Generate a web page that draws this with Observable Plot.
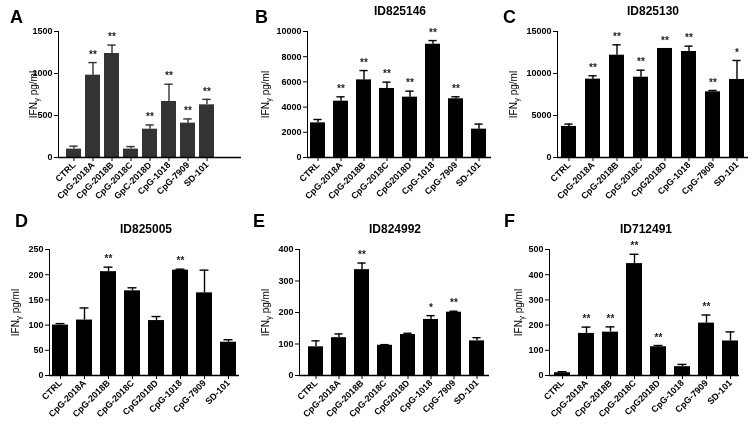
<!DOCTYPE html>
<html>
<head>
<meta charset="utf-8">
<script src="https://cdn.jsdelivr.net/npm/d3@7"></script>
<script src="https://cdn.jsdelivr.net/npm/@observablehq/plot@0.6"></script>
<style>
  html, body { margin: 0; padding: 0; background: #fff; }
  #root { position: relative; width: 752px; height: 427px; overflow: hidden; font-family: Arial, "Liberation Sans", sans-serif; will-change: transform; }
  .panel { position: absolute; }
  #overlay { position: absolute; left: 0; top: 0; pointer-events: none; }
</style>
</head>
<body>
<div id="root"></div>
<script>
// ---------- data ----------
const labelsA = ["CTRL", "CpG-2018A", "CpG-2018B", "CpG-2018C", "GpC-2018D", "CpG-1018", "CpG-7909", "SD-101"];
const labelsBF = ["CTRL", "CpG-2018A", "CpG-2018B", "CpG-2018C", "CpG2018D", "CpG-1018", "CpG-7909", "SD-101"];

const meansA = [100, 980, 1238, 100, 337, 667, 409, 627];
const errsA  = [35, 150, 100, 30, 50, 205, 50, 65];
const starsA = ["", "**", "**", "", "**", "**", "**", "**"];
const ticksA = [0, 500, 1000, 1500];

const meansB = [2750, 4470, 6160, 5480, 4790, 8990, 4660, 2250];
const errsB  = [265, 345, 740, 500, 475, 290, 160, 400];
const starsB = ["", "**", "**", "**", "**", "**", "**", ""];
const ticksB = [0, 2000, 4000, 6000, 8000, 10000];

const meansC = [3700, 9330, 12180, 9560, 12980, 12620, 7820, 9290];
const errsC  = [280, 400, 1230, 830, 0, 635, 160, 2260];
const starsC = ["", "**", "**", "**", "**", "**", "**", "*"];
const ticksC = [0, 5000, 10000, 15000];

const meansD = [100, 110, 206, 168, 109, 209, 164, 66];
const errsD  = [3, 24, 9, 6, 8, 2, 45, 5];
const starsD = ["", "", "**", "", "", "**", "", ""];
const ticksD = [0, 50, 100, 150, 200, 250];

const meansE = [91, 120, 336, 96, 130, 178, 201, 110];
const errsE  = [19, 12, 21, 2, 4, 12, 3, 10];
const starsE = ["", "", "**", "", "", "*", "**", ""];
const ticksE = [0, 100, 200, 300, 400];

const meansF = [11, 167, 172, 444, 114, 35, 208, 137];
const errsF  = [4, 25, 21, 37, 5, 9, 32, 36];
const starsF = ["", "**", "**", "**", "**", "", "**", ""];
const ticksF = [0, 100, 200, 300, 400, 500];

const yLabel = "IFNγ pg/ml";

// ---------- panels ----------
const panels = [
  {letter: "A", title: "", labels: labelsA, means: meansA, errs: errsA, stars: starsA, ticks: ticksA, color: "#333333",
   left: 0, top: 0, w: 250, h: 210, mL: 58, mT: 31, mB: 53, axisEnd: 241, c0: 71.5, c7: 208, bw: 15, labelOffset: 29,
   lx: 10, ly: 23, tx: 0, ty: 0},
  {letter: "B", title: "ID825146", labels: labelsBF, means: meansB, errs: errsB, stars: starsB, ticks: ticksB, color: "#000",
   left: 250, top: 0, w: 250, h: 210, mL: 57, mT: 31, mB: 53, axisEnd: 241, c0: 65, c7: 230.5, bw: 15.4, labelOffset: 46,
   lx: 255, ly: 23, tx: 400, ty: 15},
  {letter: "C", title: "ID825130", labels: labelsBF, means: meansC, errs: errsC, stars: starsC, ticks: ticksC, color: "#000",
   left: 500, top: 0, w: 252, h: 210, mL: 57, mT: 31, mB: 53, axisEnd: 248, c0: 65, c7: 239.5, bw: 15.4, labelOffset: 48,
   lx: 503, ly: 23, tx: 653, ty: 15},
  {letter: "D", title: "ID825005", labels: labelsBF, means: meansD, errs: errsD, stars: starsD, ticks: ticksD, color: "#000",
   left: 0, top: 210, w: 250, h: 217, mL: 49, mT: 39, mB: 52, axisEnd: 239, c0: 58.3, c7: 230, bw: 16, labelOffset: 38,
   lx: 15, ly: 227, tx: 146, ty: 233},
  {letter: "E", title: "ID824992", labels: labelsBF, means: meansE, errs: errsE, stars: starsE, ticks: ticksE, color: "#000",
   left: 250, top: 210, w: 250, h: 217, mL: 49, mT: 39, mB: 52, axisEnd: 239, c0: 62.5, c7: 229, bw: 15.5, labelOffset: 38,
   lx: 253, ly: 227, tx: 395, ty: 233},
  {letter: "F", title: "ID712491", labels: labelsBF, means: meansF, errs: errsF, stars: starsF, ticks: ticksF, color: "#000",
   left: 500, top: 210, w: 252, h: 217, mL: 49, mT: 39, mB: 52, axisEnd: 239, c0: 61.7, c7: 229.7, bw: 16, labelOffset: 35,
   lx: 504, ly: 227, tx: 646, ty: 233}
];

const root = document.getElementById("root");

for (const p of panels) {
  const data = p.labels.map((c, i) => ({c, v: p.means[i], e: p.errs[i], s: p.stars[i]}));
  const step = (p.c7 - p.c0) / 7;
  const yMax = p.ticks[p.ticks.length - 1];
  const capInset = p.bw * 0.22;
  const chart = Plot.plot({
    width: p.w,
    height: p.h,
    marginLeft: p.mL,
    marginTop: p.mT,
    marginBottom: p.mB,
    marginRight: p.w - p.axisEnd,
    style: {fontFamily: "Arial, 'Liberation Sans', sans-serif", fontSize: "9px", fontWeight: "bold", color: "#000", background: "transparent", overflow: "visible"},
    x: {domain: p.labels, range: [p.c0 - p.bw / 2, p.c7 + p.bw / 2], paddingInner: 1 - p.bw / step, paddingOuter: 0,
        label: null, tickRotate: -45, tickSize: 4, tickPadding: 2},
    y: {domain: [0, yMax], ticks: p.ticks, tickFormat: d3.format("d"), label: yLabel, labelArrow: "none", labelAnchor: "center",
        labelOffset: p.labelOffset, tickSize: 4, tickPadding: 2, line: true},
    marks: [
      Plot.barY(data, {x: "c", y: "v", fill: p.color}),
      Plot.ruleX(data.filter(d => d.e > 0), {x: "c", y1: "v", y2: d => d.v + d.e, stroke: p.color, strokeWidth: 1.4}),
      Plot.tickY(data.filter(d => d.e > 0), {x: "c", y: d => d.v + d.e, insetLeft: capInset, insetRight: capInset, stroke: p.color, strokeWidth: 1.4}),
      Plot.text(data.filter(d => d.s), {x: "c", y: d => d.v + d.e, text: "s", dy: -8, lineAnchor: "middle", fontSize: 10, fontWeight: "bold", fill: "#222"}),
      Plot.ruleY([0], {stroke: "#000", strokeWidth: 1.4})
    ]
  });
  // y-axis label: regular weight, subscript gamma, no arrow
  d3.select(chart).selectAll("[aria-label='y-axis label']").attr("font-weight", "normal").attr("font-size", 10);
  d3.select(chart).selectAll("[aria-label='y-axis label'] text").each(function () {
    const t = d3.select(this);
    t.text(null);
    t.append("tspan").text("IFN");
    t.append("tspan").attr("font-size", 8).attr("dy", 2).text("γ");
    t.append("tspan").attr("dy", -2).text(" pg/ml");
  });
  const holder = document.createElement("div");
  holder.className = "panel";
  holder.style.left = p.left + "px";
  holder.style.top = p.top + "px";
  holder.appendChild(chart);
  root.appendChild(holder);
}

// letters and titles
const overlay = d3.select(root).append("svg").attr("id", "overlay").attr("width", 752).attr("height", 427)
  .attr("font-family", "Arial, 'Liberation Sans', sans-serif");
for (const p of panels) {
  overlay.append("text").attr("x", p.lx).attr("y", p.ly).attr("font-size", 18).attr("font-weight", "bold").text(p.letter);
  if (p.title) {
    overlay.append("text").attr("x", p.tx).attr("y", p.ty).attr("text-anchor", "middle")
      .attr("font-size", 12).attr("font-weight", "bold").text(p.title);
  }
}
</script>
</body>
</html>
